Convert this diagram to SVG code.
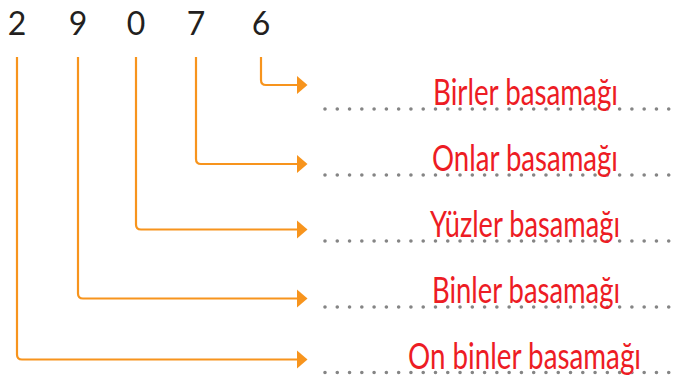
<svg xmlns="http://www.w3.org/2000/svg" width="686" height="382" viewBox="0 0 686 382">
<style>
.digit{font-family:Lato,"Liberation Sans",sans-serif;font-size:32px;font-weight:400;fill:#231f20;text-anchor:middle}
.lbl{font-family:Lato,"Liberation Sans",sans-serif;font-size:37px;font-weight:400;fill:#ed1c24;text-anchor:middle}
.conn{fill:none;stroke:#f7941d;stroke-width:2.2;stroke-linejoin:round}
.head{fill:#f7941d}
.dots{stroke:#858585;stroke-width:3.6;stroke-linecap:round;stroke-dasharray:0 12.276;fill:none}
</style>
<g id="digits">
<text class="digit" x="17" y="35">2</text>
<text class="digit" x="78" y="35">9</text>
<text class="digit" x="136" y="35">0</text>
<text class="digit" x="196" y="35">7</text>
<text class="digit" x="261" y="35">6</text>
</g>
<g id="connectors">
<path class="conn" d="M261,57 V80 Q261,85 266,85 H298"/>
<polygon class="head" points="297,76 307.5,85 297,94"/>
<path class="conn" d="M196,57 V159 Q196,164 201,164 H298"/>
<polygon class="head" points="297,155 307.5,164 297,173"/>
<path class="conn" d="M136,57 V224.5 Q136,229.5 141,229.5 H298"/>
<polygon class="head" points="297,220.5 307.5,229.5 297,238.5"/>
<path class="conn" d="M78,57 V293.5 Q78,298.5 83,298.5 H298"/>
<polygon class="head" points="297,289.5 307.5,298.5 297,307.5"/>
<path class="conn" d="M17,57 V354.5 Q17,359.5 22,359.5 H298"/>
<polygon class="head" points="297,350.5 307.5,359.5 297,368.5"/>
</g>
<g id="row-birler">
<line class="dots" x1="325" y1="109" x2="681" y2="109"/>
<text class="lbl" x="525.5" y="105" textLength="185" lengthAdjust="spacingAndGlyphs">Birler basamağı</text>
</g>
<g id="row-onlar">
<line class="dots" x1="325" y1="175" x2="681" y2="175"/>
<text class="lbl" x="525" y="171" textLength="186" lengthAdjust="spacingAndGlyphs">Onlar basamağı</text>
</g>
<g id="row-yuzler">
<line class="dots" x1="325" y1="241" x2="681" y2="241"/>
<text class="lbl" x="525" y="237" textLength="190" lengthAdjust="spacingAndGlyphs">Yüzler basamağı</text>
</g>
<g id="row-binler">
<line class="dots" x1="325" y1="307" x2="681" y2="307"/>
<text class="lbl" x="526" y="303" textLength="188" lengthAdjust="spacingAndGlyphs">Binler basamağı</text>
</g>
<g id="row-onbinler">
<line class="dots" x1="325" y1="372.5" x2="681" y2="372.5"/>
<text class="lbl" x="524.5" y="369" textLength="233" lengthAdjust="spacingAndGlyphs">On binler basamağı</text>
</g>
</svg>
